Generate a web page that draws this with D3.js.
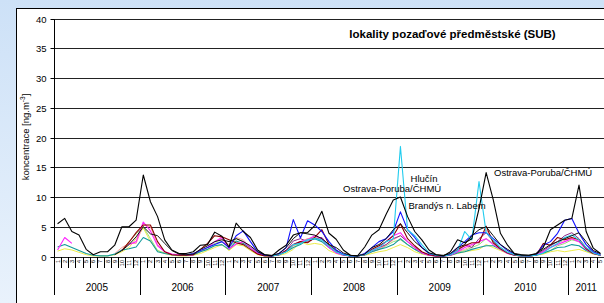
<!DOCTYPE html>
<html><head><meta charset="utf-8">
<script src="https://cdn.jsdelivr.net/npm/d3@7"></script>
<style>body{margin:0;overflow:hidden;background:#dbe9f9}svg{display:block}text{font-family:Arial,"Liberation Sans",sans-serif}</style>
</head><body><svg id="c" width="604" height="303"></svg>
<script>
// ---------- data ----------
const years = ["2005","2006","2007","2008","2009","2010","2011"];
const monthsPerYear = [12,12,12,12,12,12,5];
const monthNames = ["1","2","3","4","5","6","7","8","9","10","11","12"];
const yTicks = [0,5,10,15,20,25,30,35,40];
const N = null;

const ostravaPoruba = [
 5.5,6.4,4.2,3.6,1.2,0.3,0.8,0.8,1.9,5.0,5.0,6.1,
 13.7,9.2,6.7,2.8,1.1,0.5,0.5,0.8,1.9,2.0,4.1,3.4,
 1.6,5.6,4.2,3.2,1.1,0.3,0.1,1.1,1.9,3.6,4.0,4.0,
 5.2,7.6,3.9,2.9,1.1,0.2,0.1,1.6,3.6,4.5,7.1,9.5,
 10.0,6.7,4.2,2.8,1.1,0.3,0.1,0.8,2.8,2.3,3.0,8.0,
 14.1,9.5,3.9,1.9,0.4,0.2,0.2,0.5,1.5,4.5,5.3,6.1,
 6.4,12.0,4.2,1.4,0.5];
const blackB = [
 N,N,N,N,N,N,N,N,0.3,1.0,2.0,3.3,
 5.0,3.8,3.5,2.2,1.0,0.4,0.3,0.4,1.2,1.8,2.5,2.8,
 2.5,3.0,2.5,1.8,0.8,0.3,0.2,0.5,1.5,3.0,4.0,3.8,
 3.6,3.0,2.0,1.5,0.6,0.2,0.1,0.4,1.5,2.0,3.0,4.5,
 5.5,4.0,2.5,1.5,0.6,0.3,0.2,0.5,1.5,2.0,3.5,4.5,
 5.0,3.5,2.0,1.2,0.5,0.3,0.2,0.4,1.2,2.0,2.5,3.0,
 3.5,4.0,2.5,1.0,0.5];
const blue = [
 N,N,N,N,N,N,N,N,N,N,N,N,
 N,N,N,N,N,N,0.3,0.5,1.0,1.5,2.0,2.5,
 1.5,3.5,4.3,2.5,0.8,0.2,0.1,0.5,1.5,6.2,3.1,6.0,
 5.3,4.2,2.5,1.1,0.4,0.1,0.1,0.5,1.5,2.5,3.0,4.2,
 7.5,4.5,3.2,1.5,0.5,0.2,0.1,0.4,1.5,2.5,3.6,4.0,
 4.0,3.0,2.0,1.0,0.4,0.2,0.1,0.3,1.9,2.5,3.9,6.1,
 6.4,3.9,2.0,0.8,0.3];
const hlucin = [
 N,N,N,N,N,N,N,N,N,N,N,N,
 N,N,N,N,N,N,N,N,N,N,N,N,
 N,N,N,N,N,N,0.1,0.3,0.8,2.0,2.2,2.8,
 3.0,2.8,1.8,0.8,0.3,0.1,0.1,0.3,1.0,1.5,2.5,3.0,
 18.5,4.5,3.5,2.0,0.6,0.2,0.1,0.3,1.0,4.2,2.8,12.6,
 4.0,2.8,1.5,0.7,0.3,0.1,0.1,0.2,0.6,1.5,2.2,3.2,
 3.6,2.8,1.5,0.6,0.2];
const darkRed = [
 N,N,N,N,N,N,N,N,N,1.0,2.4,4.0,
 5.3,5.3,2.5,0.8,0.3,0.2,0.2,0.3,1.2,2.2,3.5,3.3,
 2.8,2.3,2.0,1.2,0.4,0.1,0.1,0.3,1.0,2.0,2.5,2.3,
 3.2,4.5,2.0,1.0,0.3,0.1,0.1,0.3,1.2,1.8,2.5,3.5,
 5.5,3.0,1.8,0.8,0.3,0.1,0.1,0.3,1.2,1.8,2.3,2.3,
 5.1,2.3,1.3,0.6,0.2,0.1,0.1,0.2,2.2,1.9,3.2,2.8,
 3.2,2.8,1.3,0.5,0.2];
const magenta = [
 1.1,3.2,2.2,N,N,N,N,N,N,N,2.0,2.5,
 5.8,4.3,1.8,0.8,0.4,0.3,0.3,0.2,N,1.5,2.5,3.2,
 1.3,2.1,2.5,1.5,0.5,0.2,0.1,0.3,1.0,2.0,2.5,2.8,
 3.5,3.0,1.5,0.6,0.2,0.1,0.1,0.3,1.0,1.5,2.5,3.5,
 4.0,2.5,1.5,0.6,0.2,0.1,0.1,0.2,0.8,1.5,2.0,2.5,
 3.0,2.0,1.2,0.5,0.2,0.1,0.1,0.2,0.8,1.5,2.0,2.5,
 3.0,2.5,1.2,0.5,0.2];
const teal = [
 1.6,2.0,1.5,1.0,0.5,0.2,0.1,0.1,0.4,1.1,1.3,1.6,
 3.2,2.6,0.8,0.5,0.3,0.2,0.2,0.3,0.8,1.2,1.8,2.0,
 1.2,2.6,2.2,1.5,0.5,0.2,0.1,0.3,0.8,1.5,2.0,2.8,
 3.0,2.5,1.5,0.8,0.3,0.1,0.1,0.3,0.8,1.2,1.5,2.0,
 3.0,2.0,1.2,0.6,0.3,0.1,0.1,0.2,0.6,0.8,1.2,1.5,
 1.8,1.8,1.2,0.6,0.2,0.1,0.1,0.2,0.6,1.0,1.5,1.6,
 2.0,1.8,1.0,0.5,0.2];
const yellow = [
 0.9,1.3,1.1,0.7,0.3,0.1,0.1,0.1,0.3,0.8,1.5,3.0,
 4.8,2.5,1.0,0.5,0.2,0.1,0.1,0.2,0.5,1.0,1.5,2.0,
 1.0,2.0,1.8,1.0,0.3,0.1,0.1,0.2,0.5,1.2,2.5,2.0,
 2.2,2.0,1.0,0.5,0.2,0.1,0.1,0.2,0.5,0.8,1.0,1.5,
 2.0,1.5,0.8,0.4,0.2,0.1,0.1,0.2,0.5,0.8,1.0,1.2,
 2.0,1.5,1.0,0.5,0.2,0.1,0.1,0.2,0.4,0.8,1.0,0.8,
 1.0,1.2,0.8,0.4,0.2];
const lightGreen = [
 N,N,N,N,N,N,N,N,N,1.0,2.5,3.8,
 5.0,3.0,1.0,0.6,0.3,0.2,0.2,0.3,0.8,1.5,2.2,2.5,
 1.5,3.0,2.5,1.5,0.5,0.2,0.1,0.3,0.8,1.8,2.2,3.0,
 3.2,2.8,1.8,0.8,0.3,0.1,0.1,0.3,0.8,1.2,1.8,2.5,
 2.8,2.0,1.2,0.5,0.2,0.1,0.1,0.3,0.7,1.0,1.5,2.0,
 3.0,2.2,1.5,0.7,0.3,0.1,0.1,0.2,0.5,1.0,1.8,2.2,
 2.8,2.5,1.5,0.6,0.2];
const salmon = [
 N,N,N,N,N,N,N,N,0.5,1.5,2.2,2.2,
 5.3,5.0,2.0,0.8,0.3,0.2,0.2,0.3,0.8,1.5,2.5,3.0,
 2.0,3.2,2.8,1.5,0.5,0.2,0.1,0.3,0.8,1.8,2.5,3.0,
 3.0,2.8,1.5,0.6,0.2,0.1,0.1,0.3,0.8,1.2,2.0,2.8,
 3.5,2.5,1.5,0.6,0.2,0.1,0.1,0.2,0.8,1.2,1.8,2.5,
 4.5,2.8,1.5,0.6,0.2,0.1,0.1,0.2,0.8,1.5,2.2,2.8,
 3.0,2.5,1.2,0.5,0.2];
const purple = [
 N,N,N,N,N,N,N,N,N,N,N,N,
 N,N,N,N,N,N,N,N,N,N,N,N,
 N,N,N,N,N,N,0.1,0.3,1.0,2.6,3.0,2.5,
 3.0,3.2,1.8,0.8,0.3,0.1,0.1,0.3,1.0,1.5,2.0,3.0,
 3.5,2.5,1.5,0.6,0.2,0.1,0.1,0.2,0.8,2.0,1.5,3.0,
 4.0,2.5,1.5,0.6,0.2,0.1,0.1,0.2,1.0,1.8,2.5,3.5,
 4.0,3.0,1.5,0.6,0.2];

const series = [
 {values: yellow, color:"#eded4a", w:1},
 {values: lightGreen, color:"#99dd77", w:1},
 {values: salmon, color:"#ff9f9f", w:1},
 {values: purple, color:"#8a2a8a", w:1},
 {values: teal, color:"#139a9a", w:1.1},
 {values: magenta, color:"#ff22ff", w:1.1},
 {values: darkRed, color:"#8b0000", w:1.1},
 {values: blue, color:"#1010ff", w:1.1},
 {values: hlucin, color:"#22ccee", w:1.1},
 {values: blackB, color:"#111", w:1},
 {values: ostravaPoruba, color:"#000", w:1.1}
];

// ---------- drawing ----------
const W = 604, H = 303;
const svg = d3.select("#c");
const defs = svg.append("defs");
const gr = defs.append("linearGradient").attr("id","bg").attr("x1",0).attr("y1",0).attr("x2",0).attr("y2",1);
gr.append("stop").attr("offset","0%").attr("stop-color","#cde1f7");
gr.append("stop").attr("offset","100%").attr("stop-color","#e9f2fc");
svg.append("rect").attr("width",W).attr("height",H).attr("fill","url(#bg)");
svg.append("rect").attr("x",16.5).attr("y",8.5).attr("width",640).attr("height",340)
   .attr("fill","#fff").attr("stroke","#000");

const total = d3.sum(monthsPerYear);
const idx = d3.range(total);
const x = d3.scaleBand().domain(idx).range([54, 604]).padding(0);
const xc = i => x(i) + x.bandwidth()/2;
const y = d3.scaleLinear().domain([0,40]).range([256.5, 18.5]);
const snap = v => Math.round(v) + 0.5;

// gridlines
svg.append("g").selectAll("line").data(yTicks).join("line")
  .attr("x1",54).attr("x2",W).attr("y1",d=>snap(y(d))).attr("y2",d=>snap(y(d)))
  .attr("stroke","#222").attr("stroke-width",1);

// y axis
const yAxis = d3.axisLeft(y).tickValues(yTicks).tickSize(4).tickSizeOuter(0).tickPadding(4);
const ya = svg.append("g").attr("transform","translate(54.5,0)").call(yAxis);
ya.select(".domain").remove();
ya.selectAll(".tick line").attr("stroke","#000");
ya.selectAll(".tick").attr("transform", d => `translate(0,${snap(y(d))})`);
ya.selectAll("text").attr("font-size","9.5px").attr("fill","#000").attr("font-family","Arial, 'Liberation Sans', sans-serif");
svg.append("line").attr("x1",54.5).attr("x2",54.5).attr("y1",snap(y(40))).attr("y2",295).attr("stroke","#000");

// y label
const yl = svg.append("text").attr("transform","translate(28.5,137) rotate(-90)")
  .attr("text-anchor","middle").attr("font-size","9.5px").attr("fill","#000");
yl.append("tspan").text("koncentrace [ng.m");
yl.append("tspan").attr("font-size","6.5px").attr("dy","-4").text("-3");
yl.append("tspan").attr("dy","4").text("]");

// x axis: month ticks, labels, year separators
const monthInfo = [];
let start = 0;
const yearStarts = [];
years.forEach((yr,k) => {
  yearStarts.push(start);
  for (let m = 0; m < monthsPerYear[k]; m++) monthInfo.push({i:start+m, label: monthNames[m]});
  start += monthsPerYear[k];
});
const xa = svg.append("g");
xa.selectAll("line.mt").data(idx.slice(1)).join("line").attr("class","mt")
  .attr("x1",d=>snap(x(d))).attr("x2",d=>snap(x(d))).attr("y1",257).attr("y2",268)
  .attr("stroke","#000").attr("stroke-width",1);
xa.selectAll("text.ml").data(monthInfo).join("text").attr("class","ml")
  .attr("transform",d=>`translate(${xc(d.i)+2},260) rotate(-90)`)
  .attr("text-anchor","end").attr("font-size","5.5px").attr("fill","#000").text(d=>d.label);
xa.selectAll("line.ys").data(yearStarts.slice(1)).join("line").attr("class","ys")
  .attr("x1",d=>snap(x(d))).attr("x2",d=>snap(x(d))).attr("y1",257).attr("y2",295)
  .attr("stroke","#000").attr("stroke-width",1);
xa.selectAll("text.yl").data(years).join("text").attr("class","yl")
  .attr("x",(d,k)=> (x(yearStarts[k]) + x(yearStarts[k]+monthsPerYear[k]-1) + x.bandwidth())/2)
  .attr("y",291).attr("text-anchor","middle").attr("font-size","10px").attr("fill","#000").text(d=>d);

// series lines
const line = d3.line().defined(d => d.v !== null).x(d => xc(d.i)).y(d => y(d.v));
svg.append("g").selectAll("path").data(series).join("path")
  .attr("d", s => line(s.values.map((v,i)=>({i, v}))))
  .attr("fill","none").attr("stroke", s=>s.color).attr("stroke-width", s=>s.w)
  .attr("stroke-linejoin","round");

// title and annotations
svg.append("text").attr("x",452.5).attr("y",38).attr("text-anchor","middle")
  .attr("font-size","11.5px").attr("font-weight","bold").attr("fill","#000")
  .text("lokality pozaďové předměstské (SUB)");
const ann = [
  {t:"Hlučín", x:424, y:181.5, a:"middle"},
  {t:"Ostrava-Poruba/ČHMÚ", x:343, y:191.5, a:"start"},
  {t:"Brandýs n. Labem", x:408.5, y:209, a:"start"},
  {t:"Ostrava-Poruba/ČHMÚ", x:494, y:175.5, a:"start"}
];
svg.append("g").selectAll("text").data(ann).join("text")
  .attr("x",d=>d.x).attr("y",d=>d.y).attr("text-anchor",d=>d.a)
  .attr("font-size","9.5px").attr("fill","#000").text(d=>d.t);
</script>
</body></html>
